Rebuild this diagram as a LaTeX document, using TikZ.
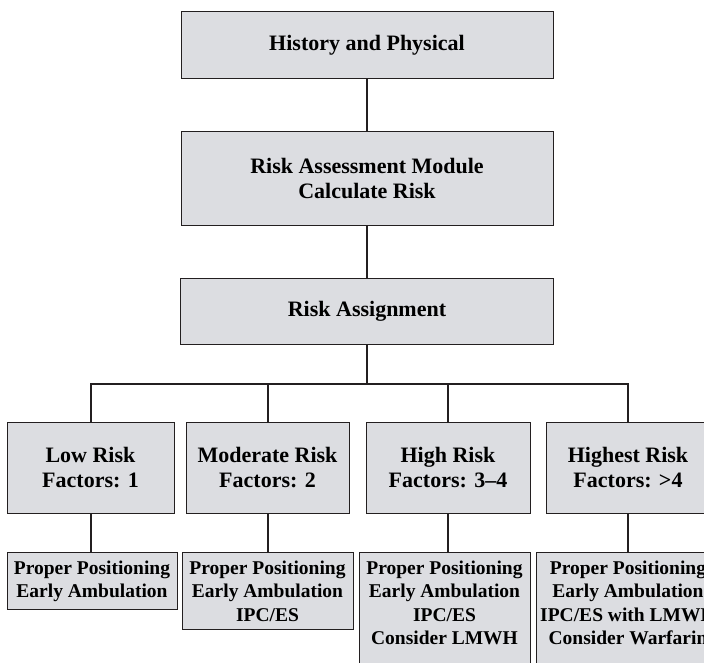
\documentclass[tikz,border=0pt]{standalone}
\usepackage{fontspec}
\setmainfont{Liberation Serif}
\definecolor{boxgray}{RGB}{220,221,225}
\definecolor{ink}{RGB}{35,31,32}
\begin{document}
\begin{tikzpicture}[x=1pt,y=-1pt,
 box/.style={draw=ink,fill=boxgray,line width=1pt,align=center,inner sep=0pt,font=\fontsize{22}{25}\selectfont\bfseries},
 tx/.style={box,anchor=north,inner xsep=0pt,inner ysep=8pt,font=\fontsize{19.5}{23.5}\selectfont\bfseries},
 link/.style={draw=ink,line width=2pt}]
\useasboundingbox (0,0) rectangle (704,663);\clip (0,0) rectangle (704,663);
\node[box,minimum width=372,minimum height=67] (hp) at (367,45.5) {History and Physical};
\node[box,minimum width=372,minimum height=94] (ram) at (367,179) {Risk Assessment Module\\Calculate Risk};
\node[box,minimum width=373,minimum height=66] (ra) at (367,311) {Risk Assignment};
\coordinate (bar) at (367,384);
% risk levels
\node[box,minimum width=167,minimum height=91] (low) at (90.5,467.5) {Low Risk\\Factors: 1};
\node[box,minimum width=163,minimum height=91] (mod) at (267.5,467.5) {Moderate Risk\\Factors: 2};
\node[box,minimum width=164,minimum height=91] (high) at (448,467.5) {High Risk\\Factors: 3--4};
\node[box,minimum width=164,minimum height=91] (hst) at (628,467.5) {Highest Risk\\Factors: >4};
% measures
\node[tx,minimum width=170] (lowtx) at (92,552) {Proper Positioning\\Early Ambulation};
\node[tx,minimum width=171] (modtx) at (267.5,552) {Proper Positioning\\Early Ambulation\\IPC/ES};
\node[tx,minimum width=171,text depth=25pt] (hightx) at (444.5,552) {Proper Positioning\\Early Ambulation\\IPC/ES\\Consider LMWH};
\node[tx,minimum width=184,text depth=25pt] (hsttx) at (628,552) {Proper Positioning\\Early Ambulation\\\makebox[150pt]{IPC/ES with LMWH}\\Consider Warfarin};
\draw[link] (hp.south)--(ram.north);\draw[link] (ram.south)--(ra.north);\draw[link] (ra.south)--(bar);
\draw[link] (low.north)--(low.north|-bar)--(hst.north|-bar)--(hst.north);
\draw[link] (mod.north)--(mod.north|-bar);\draw[link] (high.north)--(high.north|-bar);
\foreach \a in {low,mod,high,hst} \draw[link] (\a.south)--(\a.south|-\a tx.north);
\end{tikzpicture}
\end{document}
